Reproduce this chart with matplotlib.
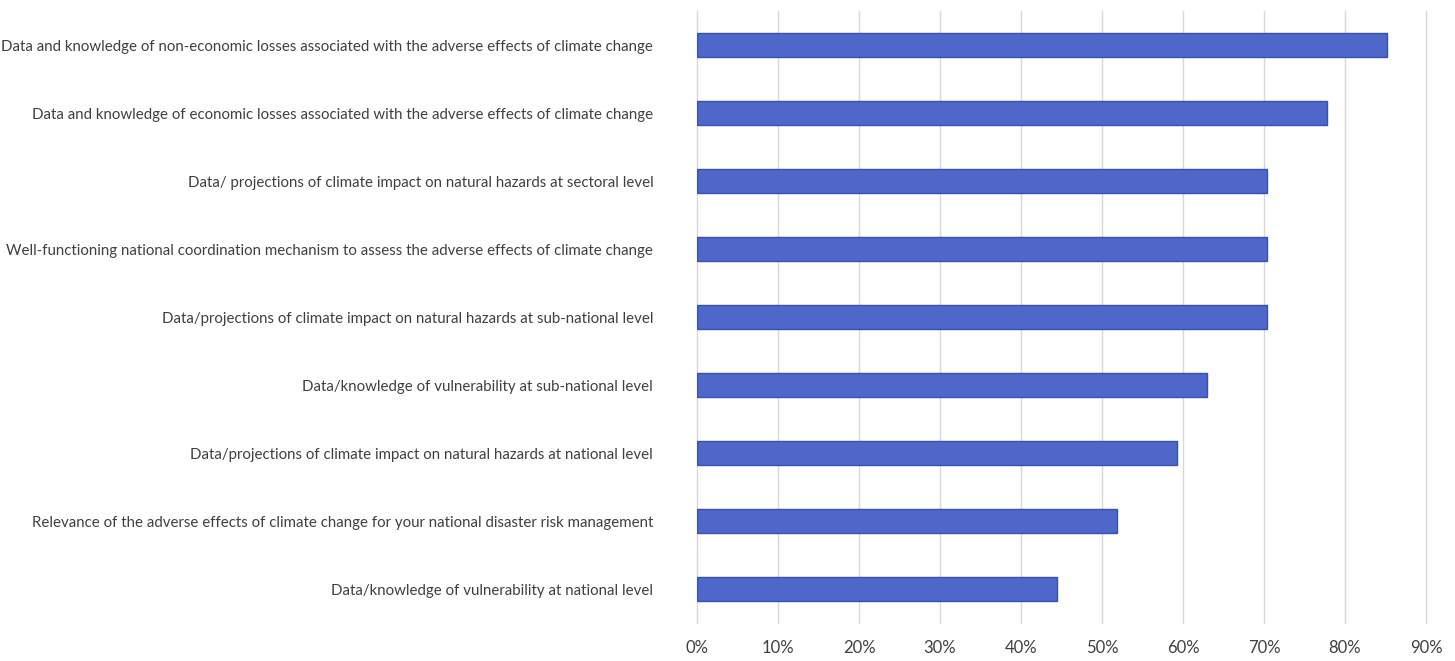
import matplotlib.pyplot as plt
from matplotlib.ticker import PercentFormatter

labels = [
    'Data and knowledge of non-economic losses associated with the adverse effects of climate change',
    'Data and knowledge of economic losses associated with the adverse effects of climate change',
    'Data/ projections of climate impact on natural hazards at sectoral level',
    'Well-functioning national coordination mechanism to assess the adverse effects of climate change',
    'Data/projections of climate impact on natural hazards at sub-national level',
    'Data/knowledge of vulnerability at sub-national level',
    'Data/projections of climate impact on natural hazards at national level',
    'Relevance of the adverse effects of climate change for your national disaster risk management',
    'Data/knowledge of vulnerability at national level',
]
values = [0.852, 0.778, 0.704, 0.704, 0.704, 0.630, 0.593, 0.519, 0.444]

plt.rcParams['font.family'] = ['Lato', 'DejaVu Sans']

fig = plt.figure(figsize=(14.55, 6.61), dpi=100)
ax = fig.add_axes([697 / 1455, 38 / 661, (1426 - 697) / 1455, (623 - 11) / 661])

y = list(range(len(labels)))
ax.barh(y, values, height=0.35, color='#4e67c8', edgecolor='#3550b8', linewidth=1, zorder=3)
ax.set_xlim(0, 0.9)
ax.set_ylim(len(labels) - 0.5, -0.5)
ax.set_yticks(y)
ax.set_yticklabels(labels, fontsize=12, color='#404040')
ax.set_xticks([i / 10 for i in range(10)])
ax.xaxis.set_major_formatter(PercentFormatter(1.0, decimals=0))
ax.tick_params(axis='x', labelsize=12, labelcolor='#404040', length=0, pad=12)
ax.tick_params(axis='y', length=0, pad=31.5)
ax.grid(axis='x', color='#d9d9d9', linewidth=1, zorder=0)
for gl in ax.get_xgridlines():
    gl.set_clip_on(False)
for s in ax.spines.values():
    s.set_visible(False)

# shrink label font so the longest label spans about 648 px like the original
fig.canvas.draw()
r = fig.canvas.get_renderer()
widest = max(t.get_window_extent(r).width for t in ax.get_yticklabels())
fs = 12 * 648 / widest
ax.set_yticklabels(labels, fontsize=fs, color='#404040')

fig.savefig('out.png', dpi=100)
